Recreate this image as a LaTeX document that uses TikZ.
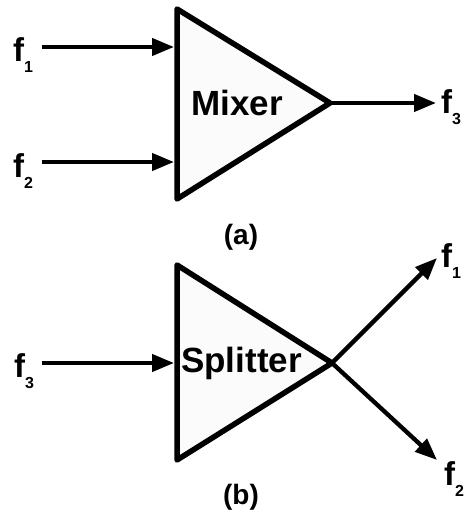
\documentclass[tikz,border=0pt]{standalone}
\usepackage{fontspec}
\setmainfont{Liberation Sans}
\usetikzlibrary{arrows.meta}
\definecolor{trifill}{RGB}{251,251,251}
\newcommand{\flab}[2]{\fontsize{33}{33}\selectfont f\raisebox{-11pt}{\fontsize{16}{16}\selectfont #2}}
\tikzset{
  tri/.style={draw=black, line width=5.5pt, line join=round, fill=trifill},
  sig/.style={line width=4.3pt, -{Triangle[length=22pt,width=17pt]}},
  flabel/.style={inner sep=0pt, anchor=base west, font=\bfseries},
  big/.style={inner sep=0pt, anchor=base west, font=\bfseries\fontsize{35}{35}\selectfont},
  captext/.style={inner sep=0pt, font=\bfseries\fontsize{28}{28}\selectfont}
}
\begin{document}
\begin{tikzpicture}[x=1pt,y=-1pt]
\useasboundingbox (0,0) rectangle (465,519);
% ---------- (a) Mixer ----------
\coordinate (ma) at (177,9);
\coordinate (mb) at (177,199);
\coordinate (mc) at (330,103);
\draw[tri] (ma) -- (mb) -- (mc) -- cycle;
\node[big] (mix) at (191,115) {Mixer};
\node[flabel] (mf1) at (13,62) {\flab{}{1}};
\node[flabel] (mf2) at (13,177) {\flab{}{2}};
\node[flabel] (mf3) at (441,113) {\flab{}{3}};
\coordinate (m1s) at (42,47);
\coordinate (m1e) at (174,47);
\coordinate (m2s) at (42,162);
\coordinate (m2e) at (174,162);
\coordinate (m3e) at (436,103);
\draw[sig] (m1s) -- (m1e);
\draw[sig] (m2s) -- (m2e);
\draw[sig] (mc) -- (m3e);
\node[captext] (capa) at (241,237) {(a)};
% ---------- (b) Splitter ----------
\coordinate (sa) at (177,265);
\coordinate (sb) at (177,460);
\coordinate (sc) at (332,363);
\draw[tri] (sa) -- (sb) -- (sc) -- cycle;
\node[big] (spl) at (181,372) {Splitter};
\node[flabel] (sf3) at (14,377) {\flab{}{3}};
\node[flabel] (sf1) at (441,267) {\flab{}{1}};
\node[flabel] (sf2) at (444,485) {\flab{}{2}};
\coordinate (s3s) at (42,363);
\coordinate (s3e) at (174,363);
\coordinate (s1e) at (437,258);
\coordinate (s2e) at (437,460);
\draw[sig] (s3s) -- (s3e);
\draw[sig] (sc) -- (s1e);
\draw[sig] (sc) -- (s2e);
\node[captext] (capb) at (241,497) {(b)};
\end{tikzpicture}
\end{document}
